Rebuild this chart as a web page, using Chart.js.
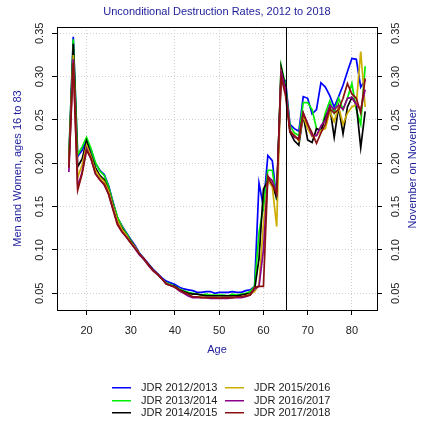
<!DOCTYPE html>
<html>
<head>
<meta charset="utf-8">
<script src="https://cdn.jsdelivr.net/npm/chart.js@4.4.1/dist/chart.umd.min.js"></script>
<style>
html, body { margin: 0; padding: 0; background: #fff; }
</style>
</head>
<body>
<canvas id="chart" width="425" height="425"></canvas>
<script>
var ages = [16, 17, 18, 19, 20, 21, 22, 23, 24, 25, 26, 27, 28, 29, 30, 31, 32, 33, 34, 35,
    36, 37, 38, 39, 40, 41, 42, 43, 44, 45, 46, 47, 48, 49, 50, 51, 52, 53, 54, 55,
    56, 57, 58, 59, 60, 61, 62, 63, 64, 65, 66, 67, 68, 69, 70, 71, 72, 73, 74, 75,
    76, 77, 78, 79, 80, 81, 82, 83];

var jdr1213 = [0.205, 0.346, 0.208, 0.215, 0.227, 0.216, 0.200, 0.192, 0.187, 0.174,
    0.155, 0.137, 0.128, 0.120, 0.112, 0.105, 0.096, 0.090, 0.084, 0.078,
    0.073, 0.068, 0.064, 0.062, 0.060, 0.057, 0.055, 0.054, 0.053, 0.051,
    0.051, 0.052, 0.052, 0.050, 0.051, 0.051, 0.051, 0.052, 0.051, 0.051,
    0.053, 0.054, 0.058, 0.177, 0.150, 0.209, 0.203, 0.158, 0.301, 0.295,
    0.245, 0.240, 0.237, 0.277, 0.275, 0.257, 0.262, 0.293, 0.288, 0.278,
    0.265, 0.277, 0.290, 0.306, 0.321, 0.320, 0.288, 0.296];
var jdr1314 = [0.208, 0.343, 0.210, 0.219, 0.230, 0.217, 0.201, 0.191, 0.186, 0.173,
    0.154, 0.138, 0.127, 0.119, 0.111, 0.103, 0.095, 0.089, 0.083, 0.077,
    0.072, 0.067, 0.062, 0.060, 0.058, 0.055, 0.053, 0.051, 0.050, 0.049,
    0.048, 0.049, 0.048, 0.048, 0.048, 0.048, 0.047, 0.049, 0.048, 0.049,
    0.050, 0.052, 0.058, 0.120, 0.150, 0.192, 0.192, 0.158, 0.313, 0.290,
    0.243, 0.235, 0.232, 0.270, 0.270, 0.262, 0.240, 0.238, 0.258, 0.272,
    0.258, 0.275, 0.262, 0.275, 0.292, 0.262, 0.245, 0.312];
var jdr1415 = [0.200, 0.338, 0.196, 0.205, 0.226, 0.210, 0.195, 0.186, 0.181, 0.169,
    0.151, 0.134, 0.125, 0.117, 0.110, 0.103, 0.095, 0.089, 0.083, 0.077,
    0.072, 0.067, 0.061, 0.059, 0.058, 0.054, 0.052, 0.050, 0.049, 0.049,
    0.048, 0.047, 0.047, 0.047, 0.047, 0.047, 0.047, 0.047, 0.047, 0.048,
    0.049, 0.050, 0.054, 0.090, 0.170, 0.180, 0.175, 0.160, 0.311, 0.287,
    0.236, 0.226, 0.221, 0.255, 0.227, 0.224, 0.240, 0.237, 0.253, 0.265,
    0.230, 0.265, 0.234, 0.265, 0.276, 0.268, 0.218, 0.260];
var jdr1516 = [0.198, 0.325, 0.184, 0.198, 0.221, 0.208, 0.192, 0.184, 0.179, 0.168,
    0.150, 0.134, 0.124, 0.117, 0.109, 0.103, 0.095, 0.089, 0.082, 0.076,
    0.072, 0.067, 0.061, 0.059, 0.057, 0.053, 0.050, 0.048, 0.046, 0.046,
    0.046, 0.045, 0.045, 0.045, 0.045, 0.045, 0.045, 0.045, 0.046, 0.046,
    0.047, 0.049, 0.052, 0.060, 0.130, 0.180, 0.173, 0.127, 0.305, 0.283,
    0.238, 0.232, 0.226, 0.255, 0.240, 0.231, 0.232, 0.238, 0.240, 0.260,
    0.248, 0.265, 0.245, 0.258, 0.265, 0.268, 0.329, 0.265];
var jdr1617 = [0.190, 0.320, 0.172, 0.190, 0.217, 0.205, 0.188, 0.181, 0.175, 0.164,
    0.147, 0.130, 0.121, 0.115, 0.108, 0.101, 0.094, 0.089, 0.082, 0.076,
    0.072, 0.067, 0.061, 0.059, 0.057, 0.053, 0.050, 0.047, 0.045, 0.045,
    0.045, 0.045, 0.044, 0.044, 0.044, 0.044, 0.044, 0.045, 0.045, 0.045,
    0.046, 0.048, 0.055, 0.058, 0.100, 0.185, 0.180, 0.165, 0.305, 0.285,
    0.238, 0.230, 0.229, 0.258, 0.246, 0.232, 0.232, 0.243, 0.250, 0.267,
    0.262, 0.267, 0.262, 0.275, 0.276, 0.268, 0.262, 0.285];
var jdr1718 = [0.195, 0.316, 0.169, 0.188, 0.215, 0.206, 0.188, 0.181, 0.176, 0.164,
    0.146, 0.129, 0.121, 0.115, 0.108, 0.102, 0.095, 0.090, 0.083, 0.077,
    0.072, 0.067, 0.061, 0.059, 0.057, 0.054, 0.051, 0.049, 0.046, 0.046,
    0.045, 0.045, 0.045, 0.045, 0.0445, 0.045, 0.045, 0.045, 0.046, 0.046,
    0.047, 0.048, 0.057, 0.058, 0.058, 0.185, 0.175, 0.165, 0.300, 0.278,
    0.236, 0.232, 0.227, 0.258, 0.245, 0.235, 0.223, 0.235, 0.245, 0.263,
    0.258, 0.262, 0.275, 0.292, 0.280, 0.275, 0.258, 0.298];

var seriesNames = ['JDR 2012/2013', 'JDR 2013/2014', 'JDR 2014/2015',
    'JDR 2015/2016', 'JDR 2016/2017', 'JDR 2017/2018'];
var seriesColors = ['#0000ff', '#00ee00', '#000000', '#cdad00', '#8b008b', '#8b1010'];
var xTicks = [20, 30, 40, 50, 60, 70, 80];
var yTicks = [0.05, 0.10, 0.15, 0.20, 0.25, 0.30, 0.35];
var retireAge = 65;

var FONT = 'Liberation Sans, Arial, Helvetica, sans-serif';
var BLUE_TXT = '#1c1c9a';

function toPoints(values) {
    var pts = [];
    for (var i = 0; i < ages.length; i++) {
        pts.push({x: ages[i], y: values[i]});
    }
    return pts;
}

var allSeries = [jdr1213, jdr1314, jdr1415, jdr1516, jdr1617, jdr1718];
var datasets = [];
for (var i = 0; i < allSeries.length; i++) {
    datasets.push({
        label: seriesNames[i],
        data: toPoints(allSeries[i]),
        borderColor: seriesColors[i],
        backgroundColor: seriesColors[i],
        borderWidth: 1.7,
        pointRadius: 0,
        tension: 0,
        order: allSeries.length - i
    });
}

function fixTicks(list) {
    return function (scale) {
        scale.ticks = list.map(function (v) { return {value: v}; });
    };
}

// box, retirement line, rotated labels, titles and legend, R style
var decor = {
    id: 'decor',
    beforeDraw: function (chart) {
        var ctx = chart.ctx;
        ctx.save();
        ctx.fillStyle = '#fff';
        ctx.fillRect(0, 0, chart.width, chart.height);
        ctx.restore();
    },
    afterDraw: function (chart) {
        var ctx = chart.ctx;
        var a = chart.chartArea;
        var xs = chart.scales.x;
        var ys = chart.scales.y;
        ctx.save();

        ctx.strokeStyle = '#000';
        ctx.lineWidth = 1;
        ctx.strokeRect(a.left + 0.5, a.top + 0.5, a.right - a.left, a.bottom - a.top);

        var xr = Math.round(xs.getPixelForValue(retireAge)) + 0.5;
        ctx.beginPath();
        ctx.moveTo(xr, a.top);
        ctx.lineTo(xr, a.bottom);
        ctx.stroke();

        ctx.fillStyle = '#222';
        ctx.font = '11px ' + FONT;
        ctx.textAlign = 'center';
        ctx.textBaseline = 'middle';
        yTicks.forEach(function (v) {
            var py = ys.getPixelForValue(v);
            [40, 396].forEach(function (px) {
                ctx.save();
                ctx.translate(px, py);
                ctx.rotate(-Math.PI / 2);
                ctx.fillText(v.toFixed(2), 0, 0);
                ctx.restore();
            });
        });

        ctx.fillStyle = BLUE_TXT;
        ctx.fillText('Unconditional Destruction Rates, 2012 to 2018', (a.left + a.right) / 2, 12);
        ctx.fillText('Age', (a.left + a.right) / 2, 350);
        var midY = (a.top + a.bottom) / 2;
        ctx.save();
        ctx.translate(18, midY);
        ctx.rotate(-Math.PI / 2);
        ctx.fillText('Men and Women, ages 16 to 83', 0, 0);
        ctx.restore();
        ctx.save();
        ctx.translate(413, midY);
        ctx.rotate(-Math.PI / 2);
        ctx.fillText('November on November', 0, 0);
        ctx.restore();

        // legend, two columns of three
        var cols = [112, 225];
        var rows = [387.5, 400.5, 413];
        ctx.textAlign = 'left';
        for (var k = 0; k < seriesNames.length; k++) {
            var cx = cols[Math.floor(k / 3)];
            var cy = Math.round(rows[k % 3]);
            ctx.fillStyle = seriesColors[k];
            ctx.fillRect(cx, cy - 1, 19, 1.5);
            ctx.fillStyle = '#222';
            ctx.fillText(seriesNames[k], cx + 29, cy);
        }

        ctx.restore();
    }
};

var ctx = document.getElementById('chart').getContext('2d');
var chart = new Chart(ctx, {
    type: 'line',
    data: {datasets: datasets},
    options: {
        responsive: false,
        animation: false,
        layout: {padding: {top: 27, left: 0, right: 0, bottom: 0}},
        plugins: {
            legend: {display: false},
            title: {display: false},
            tooltip: {enabled: false}
        },
        scales: {
            x: {
                type: 'linear',
                min: 13.32,
                max: 85.68,
                afterBuildTicks: fixTicks(xTicks),
                afterFit: function (s) { s.height = 115; },
                border: {display: false, dash: [1, 2]},
                grid: {
                    color: '#cfcfcf',
                    tickLength: 5,
                    tickColor: '#000',
                    tickBorderDash: []
                },
                ticks: {
                    font: {family: FONT, size: 11},
                    color: '#222',
                    padding: 9,
                    maxRotation: 0,
                    callback: function (v) { return String(v); }
                }
            },
            y: {
                type: 'linear',
                position: 'left',
                min: 0.0307,
                max: 0.3573,
                afterBuildTicks: fixTicks(yTicks),
                afterFit: function (s) { s.width = 57; },
                border: {display: false, dash: [1, 2]},
                grid: {
                    color: '#cfcfcf',
                    tickLength: 5,
                    tickColor: '#000',
                    tickBorderDash: []
                },
                ticks: {display: false}
            },
            y2: {
                type: 'linear',
                position: 'right',
                min: 0.0307,
                max: 0.3573,
                afterBuildTicks: fixTicks(yTicks),
                afterFit: function (s) { s.width = 48; },
                border: {display: false},
                grid: {
                    drawOnChartArea: false,
                    tickLength: 5,
                    tickColor: '#000'
                },
                ticks: {display: false}
            }
        }
    },
    plugins: [decor]
});
</script>
</body>
</html>
